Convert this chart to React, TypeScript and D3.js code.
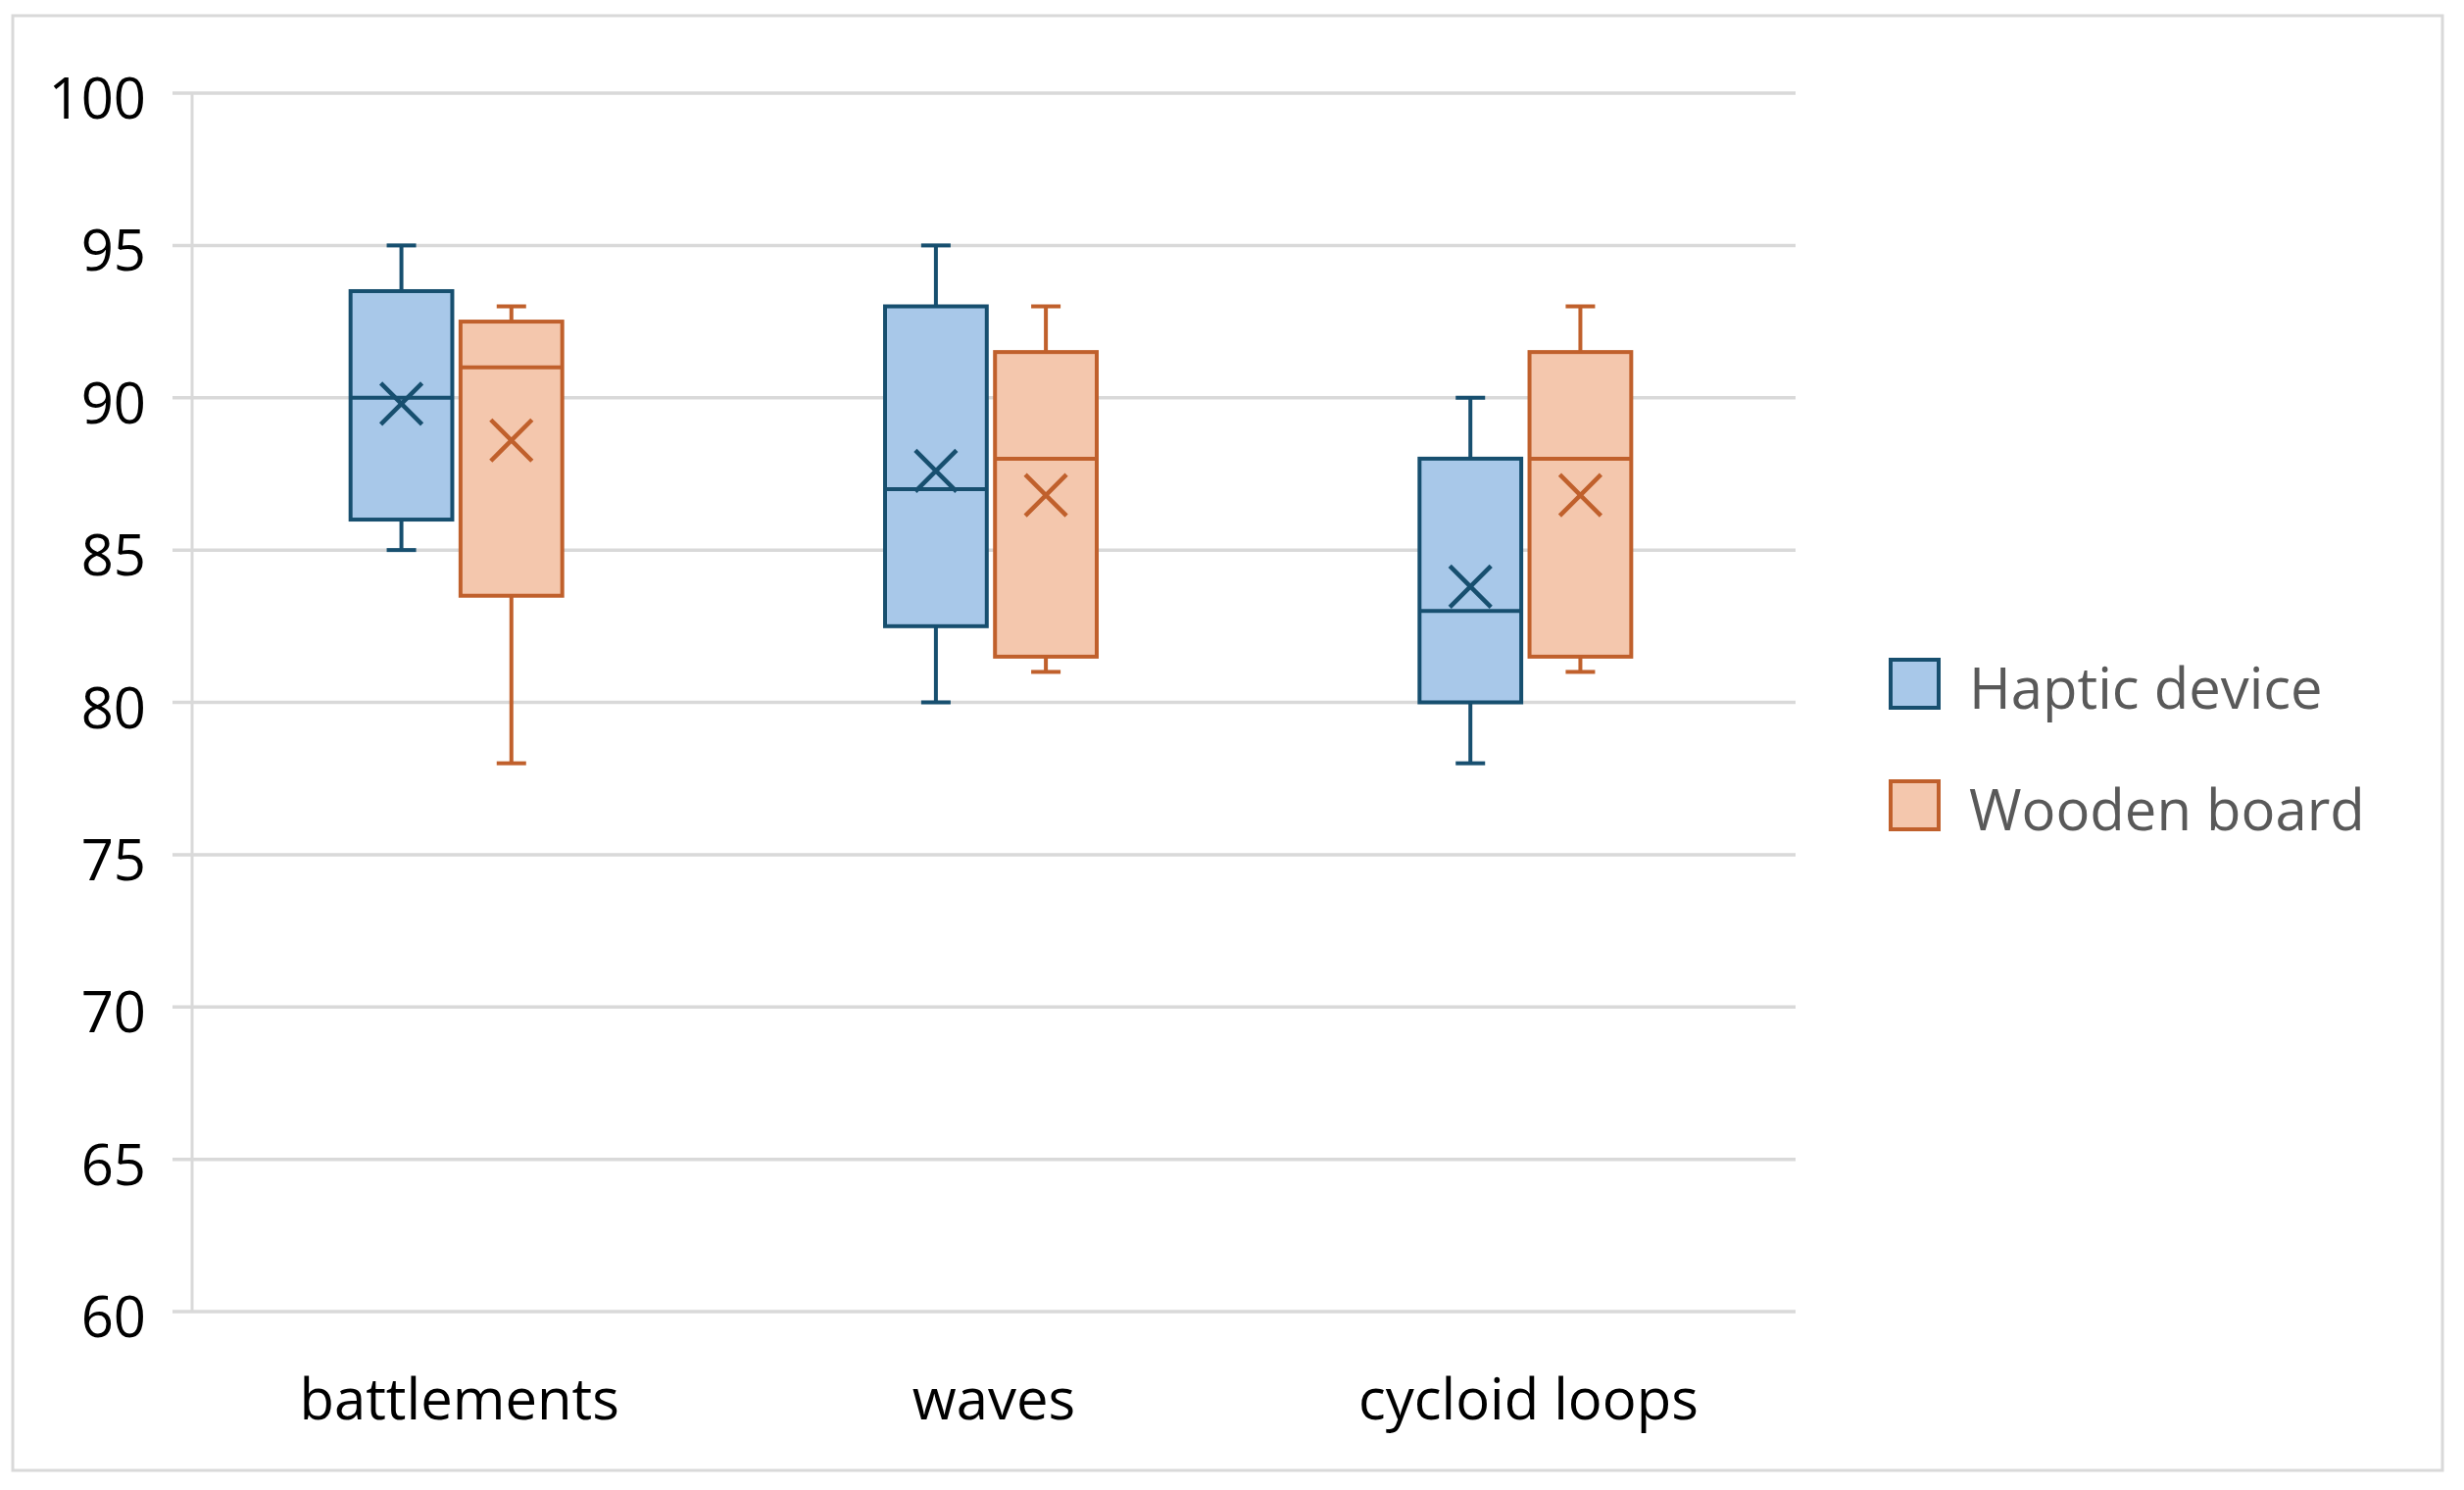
import React from 'react';
import * as d3 from 'd3';

// Chart data
const categories = ['battlements', 'waves', 'cycloid loops'];
const seriesNames = ['Haptic device', 'Wooden board'];
const yTicks = [60, 65, 70, 75, 80, 85, 90, 95, 100];

const hapticMin = [85, 80, 78];
const hapticQ1 = [86, 82.5, 80];
const hapticMedian = [90, 87, 83];
const hapticQ3 = [93.5, 93, 88];
const hapticMax = [95, 95, 90];
const hapticMean = [89.8, 87.6, 83.8];

const woodenMin = [78, 81, 81];
const woodenQ1 = [83.5, 81.5, 81.5];
const woodenMedian = [91, 88, 88];
const woodenQ3 = [92.5, 91.5, 91.5];
const woodenMax = [93, 93, 93];
const woodenMean = [88.6, 86.8, 86.8];

const fills = ['#a8c8e9', '#f4c7ad'];
const strokes = ['#174f6f', '#c0602c'];

const WIDTH = 2514;
const HEIGHT = 1520;
const FONT = '"Open Sans", "Noto Sans", sans-serif';

interface BoxStat {
  min: number;
  q1: number;
  median: number;
  q3: number;
  max: number;
  mean: number;
}

const stats: BoxStat[][] = [
  categories.map((_, i) => ({
    min: hapticMin[i],
    q1: hapticQ1[i],
    median: hapticMedian[i],
    q3: hapticQ3[i],
    max: hapticMax[i],
    mean: hapticMean[i],
  })),
  categories.map((_, i) => ({
    min: woodenMin[i],
    q1: woodenQ1[i],
    median: woodenMedian[i],
    q3: woodenQ3[i],
    max: woodenMax[i],
    mean: woodenMean[i],
  })),
];

export default function App() {
  const plot = {left: 196, right: 1832, top: 95, bottom: 1338};

  const x0 = d3
    .scaleBand<string>()
    .domain(categories)
    .range([plot.left, plot.right])
    .padding(0);

  // the pair of boxes sits a touch left of the category centre
  const x1 = d3
    .scaleBand<string>()
    .domain(seriesNames)
    .range([-111, 105])
    .paddingInner(0.075);

  const y = d3
    .scaleLinear()
    .domain([60, 100])
    .range([plot.bottom, plot.top]);

  const bw = x1.bandwidth();
  const cap = 15;
  const xs = 21;

  return (
    <svg
      width={WIDTH}
      height={HEIGHT}
      style={{position: 'absolute', left: 0, top: 0, display: 'block'}}
      fontFamily={FONT}
    >
      <rect x={0} y={0} width={WIDTH} height={HEIGHT} fill="#fff" />
      <rect
        x={13}
        y={16}
        width={2479}
        height={1484}
        fill="#fff"
        stroke="#d9d9d9"
        strokeWidth={3}
      />

      {/* grid lines and y labels */}
      {yTicks.map((t) => (
        <g key={t}>
          <line
            x1={plot.left - 20}
            x2={plot.right}
            y1={y(t)}
            y2={y(t)}
            stroke="#d9d9d9"
            strokeWidth={3.5}
          />
          <text
            x={149}
            y={y(t) + 26}
            textAnchor="end"
            fontSize={58}
            fill="#000"
          >
            {t}
          </text>
        </g>
      ))}
      <line
        x1={plot.left}
        x2={plot.left}
        y1={plot.top}
        y2={plot.bottom}
        stroke="#d9d9d9"
        strokeWidth={3}
      />

      {/* category labels */}
      {categories.map((c) => (
        <text
          key={c}
          x={(x0(c) || 0) + x0.bandwidth() / 2}
          y={1448}
          textAnchor="middle"
          fontSize={58}
          fill="#000"
        >
          {c}
        </text>
      ))}

      {/* boxes */}
      {seriesNames.map((s, si) =>
        categories.map((c, ci) => {
          const d = stats[si][ci];
          const cx0 = (x0(c) || 0) + x0.bandwidth() / 2 + (x1(s) || 0);
          const cx = cx0 + bw / 2;
          const col = strokes[si];
          return (
            <g key={`${s}-${c}`}>
              <line x1={cx} x2={cx} y1={y(d.max)} y2={y(d.q3)} stroke={col} strokeWidth={4} />
              <line x1={cx} x2={cx} y1={y(d.q1)} y2={y(d.min)} stroke={col} strokeWidth={4} />
              <line x1={cx - cap} x2={cx + cap} y1={y(d.max)} y2={y(d.max)} stroke={col} strokeWidth={4} />
              <line x1={cx - cap} x2={cx + cap} y1={y(d.min)} y2={y(d.min)} stroke={col} strokeWidth={4} />
              <rect
                x={cx0}
                y={y(d.q3)}
                width={bw}
                height={y(d.q1) - y(d.q3)}
                fill={fills[si]}
                stroke={col}
                strokeWidth={4}
              />
              <line x1={cx0} x2={cx0 + bw} y1={y(d.median)} y2={y(d.median)} stroke={col} strokeWidth={4} />
              <path
                d={`M${cx - xs},${y(d.mean) - xs}L${cx + xs},${y(d.mean) + xs}M${cx - xs},${y(d.mean) + xs}L${cx + xs},${y(d.mean) - xs}`}
                stroke={col}
                strokeWidth={4.5}
                fill="none"
              />
            </g>
          );
        }),
      )}

      {/* legend */}
      {seriesNames.map((s, i) => (
        <g key={s} transform={`translate(1927,${671 + i * 124})`}>
          <rect x={2} y={2} width={49} height={49} fill={fills[i]} stroke={strokes[i]} strokeWidth={4} />
          <text x={82} y={52} fontSize={58} fill="#595959">
            {s}
          </text>
        </g>
      ))}
    </svg>
  );
}
